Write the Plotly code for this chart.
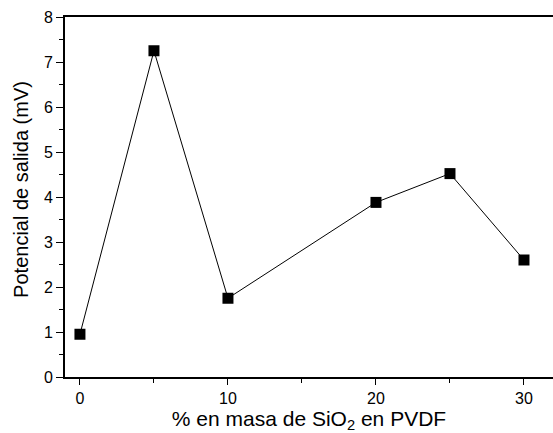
import plotly.graph_objects as go

x_pct = [0, 5, 10, 20, 25, 30]
potencial = [0.95, 7.25, 1.75, 3.88, 4.52, 2.6]
x_ticks = [0, 10, 20, 30]
y_ticks = [0, 1, 2, 3, 4, 5, 6, 7, 8]

FONT = "Liberation Sans, Arial, sans-serif"

fig = go.Figure()
fig.add_trace(go.Scatter(
    x=x_pct, y=potencial, mode="lines+markers",
    line=dict(color="black", width=1),
    marker=dict(symbol="square", size=11, color="black"),
    showlegend=False,
))

fig.update_layout(
    width=553, height=433,
    margin=dict(l=65, r=0, t=17, b=56),
    paper_bgcolor="white", plot_bgcolor="white",
    font=dict(family=FONT, color="black", size=16),
)
fig.update_xaxes(
    range=[-1.01, 31.96],
    tickvals=x_ticks, ticktext=[str(v) for v in x_ticks],
    ticks="outside", ticklen=6, tickwidth=1.3, tickcolor="black",
    minor=dict(dtick=5, tick0=0, ticks="outside", ticklen=4, tickwidth=1.3, tickcolor="black", showgrid=False),
    showline=True, linecolor="black", linewidth=2, mirror=True,
    showgrid=False, zeroline=False,
    tickfont=dict(size=16),
    title=dict(text="% en masa de SiO<sub>2</sub> en PVDF", font=dict(size=21), standoff=6),
)
fig.update_yaxes(
    range=[0, 8],
    tickvals=y_ticks, ticktext=[str(v) for v in y_ticks],
    ticks="outside", ticklen=7, tickwidth=1.3, tickcolor="black",
    minor=dict(dtick=0.5, tick0=0, ticks="outside", ticklen=4, tickwidth=1.3, tickcolor="black", showgrid=False),
    showline=True, linecolor="black", linewidth=2, mirror=False,
    showgrid=False, zeroline=False,
    tickfont=dict(size=16),
)
fig.add_annotation(
    text="Potencial de salida (mV)", textangle=-90,
    xref="paper", yref="paper", x=-0.09, y=0.52,
    xanchor="center", yanchor="middle", showarrow=False,
    font=dict(size=20, family=FONT, color="black"),
)

fig.write_html("out.html")
